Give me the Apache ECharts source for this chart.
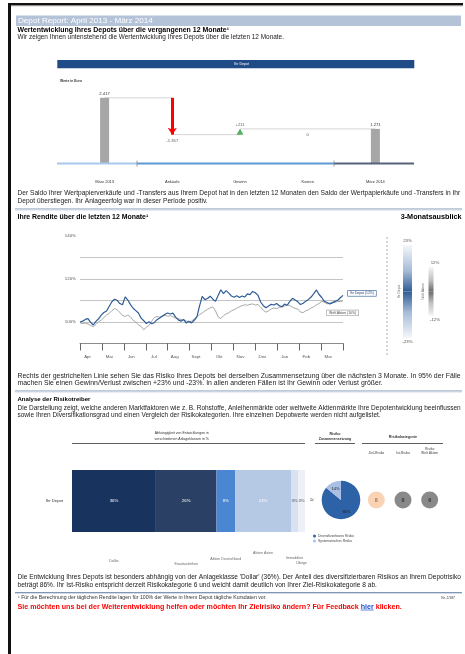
<!DOCTYPE html>
<html><head><meta charset="utf-8">
<script src="https://cdn.jsdelivr.net/npm/echarts@6/dist/echarts.min.js"></script>
<style>html,body{margin:0;padding:0;background:#fff}#c{width:465px;height:654px}</style>
</head><body><div id="c"></div>
<script>
// ---------------- DATA ----------------
const wfCategories = ['März 2013', 'Ankäufe', 'Gewinn', 'Kosten', 'März 2014'];
const wfStartValue = 2417;
const wfChanges = [-1357, 211, 0];
const wfEndValue = 1271;

const monthLabels = ['Apr', 'Mai', 'Jun', 'Jul', 'Aug', 'Sept', 'Okt', 'Nov', 'Dez', 'Jan', 'Feb', 'Mar'];
const returnAxisLabels = [100, 120, 140];
const depotReturn = [100.0,100.4,101.2,101.6,99.8,98.6,100.3,101.5,103.2,104.4,105.1,107.3,109.4,110.6,110.1,108.6,108.0,111.7,110.2,108.1,
  106.4,105.3,104.2,101.8,100.6,99.3,100.1,99.2,99.8,101.1,101.9,102.7,103.6,104.2,103.7,104.1,102.3,101.0,100.4,101.2,
  99.5,100.3,99.6,100.8,102.4,107.5,111.9,110.4,110.9,112.0,110.6,109.6,112.3,115.0,113.2,114.6,113.4,112.1,111.5,112.2,
  111.4,112.1,111.6,113.1,112.7,114.2,113.6,112.4,109.3,107.6,106.6,107.4,108.2,107.9,108.6,107.6,107.1,108.3,107.8,109.6,
  111.0,110.2,109.4,108.1,108.7,109.7,110.5,111.6,113.2,114.9,112.8,111.4,109.6,109.1,108.4,108.9,109.6,110.1,111.3,112.4];
const indexReturn = [99.6,99.3,99.5,99.1,98.4,97.8,98.9,100.2,100.9,102.1,103.2,104.0,105.3,106.3,105.6,104.5,103.0,102.6,103.2,102.4,
  100.8,99.9,98.7,97.9,96.4,97.6,98.5,100.4,102.1,102.5,102.3,102.8,103.1,102.7,102.9,102.4,101.8,101.6,101.2,100.9,
  100.5,100.1,100.4,101.5,102.6,103.4,104.2,105.1,105.9,106.6,107.0,105.2,102.4,101.6,102.9,103.8,104.3,105.2,105.7,106.4,
  107.1,107.6,108.0,107.8,108.2,108.4,107.9,108.1,106.9,105.4,104.6,105.2,106.1,106.5,106.2,106.8,107.0,107.4,107.9,107.6,
  106.9,106.3,106.0,104.6,104.4,105.2,105.7,106.5,107.1,108.0,108.6,109.7,109.2,108.4,108.9,109.3,109.1,109.6,109.5,109.8];
const depotEndLabel = 'Ihr Depot (12%)';
const indexEndLabel = 'Welt Aktien (10%)';

const outlookNames = ['Ihr Depot', 'Welt Aktien'];
const outlookRange = [23, 12];

const factorNames = ['Dollar', 'Staatsanleihen', 'Aktien Deutschland', 'Aktien Asien', 'Immobilien', 'Übrige'];
const factorShares = [36, 26, 8, 24, 3, 3];
const compositionNames = ['Diversifizierbares Risiko', 'Systematisches Risiko'];
const compositionShares = [86, 14];
const categoryNames = ['Ziel-Risiko', 'Ist-Risiko', 'Risiko\nWelt Aktien'];
const categoryValues = [8, 6, 6];

// ---------------- STYLE / HELPERS ----------------
const FF = 'Liberation Sans';
const factorColors = ['#18335d', '#2a4165', '#4a86d2', '#b5c9e4', '#d8e2f0', '#edf1f7'];
const factorNameOffsets = [60, 63, 58, 52, 57, 62];
const categoryColors = ['#f8c8a0', '#6b6b6b', '#6b6b6b'];
const categoryTextColors = ['#8a6446', '#222', '#222'];

const mctx = document.createElement('canvas').getContext('2d');
function tw(text, size, weight) { mctx.font = (weight || 'normal') + ' ' + size + 'px ' + FF; return mctx.measureText(text).width; }
function fit(text, width, weight) { return 100 * width / tw(text, 100, weight); }
function txt(text, x, y, o) {
  o = o || {};
  const size = o.size || fit(text, o.width, o.weight);
  return { type: 'text', x: x, y: y, silent: true, z: 100, rotation: o.rotation || 0,
    style: { text: text, fontFamily: FF, fontSize: size, fontWeight: o.weight || 'normal', fill: o.color || '#1a1a1a',
      align: o.align || 'left', verticalAlign: 'middle', textAlign: o.align || 'left', textVerticalAlign: 'middle' } };
}
function para(l1, l2, y1, y2) {
  const s = fit(l1, 444);
  return [txt(l1, 17.5, y1, { size: s }), txt(l2, 17.5, y2, { size: s })];
}
function rect(x, y, w, h, fill) { return { type: 'rect', silent: true, shape: { x: x, y: y, width: w, height: h }, style: { fill: fill } }; }
function ln(x1, y1, x2, y2, color, width, dash) {
  return { type: 'line', silent: true, z: 90, shape: { x1: x1, y1: y1, x2: x2, y2: y2 }, style: { stroke: color, lineWidth: width || 1, lineDash: dash || null } };
}
function sep(y) { return [ln(15, y, 462, y, '#8196b4', 1), ln(15, y + 1, 462, y + 1, '#d3dce8', 1)]; }
const fmt = v => (v < 0 ? '-' : '') + String(Math.abs(v)).replace(/\B(?=(\d{3})+(?!\d))/g, '.');

// ---------------- DERIVED ----------------
const levels = [wfStartValue];
wfChanges.forEach(c => levels.push(levels[levels.length - 1] + c));
const connectorData = levels.concat([wfEndValue]);
const wfBarData = wfCategories.map((c, i) => i === 0 ? wfStartValue : (i === wfCategories.length - 1 ? wfEndValue : '-'));
const changeMarkers = wfChanges.map((c, i) => {
  const cat = wfCategories[i + 1], prev = levels[i], next = levels[i + 1];
  const lab = (c > 0 ? '+' : '') + fmt(c);
  if (c < 0) return { value: [cat, next], symbolSize: 0, label: { show: true, position: 'bottom', distance: 4, formatter: lab } };
  if (c > 0) return { value: [cat, prev + c / 2], symbol: 'triangle', symbolSize: [7, 6], itemStyle: { color: '#2aa33d' }, label: { show: true, position: 'top', distance: 2, formatter: lab } };
  return { value: [cat, next], symbolSize: 0, label: { show: true, position: 'bottom', distance: 4, formatter: lab } };
});
const arrowLines = wfChanges.map((c, i) => c < 0 ? [{ coord: [wfCategories[i + 1], levels[i]] }, { coord: [wfCategories[i + 1], levels[i + 1]] }] : null).filter(Boolean);
const pointIdx = depotReturn.map((v, i) => i);
let cum = 0;
const factorMids = factorShares.map(s => { const m = cum + s / 2; cum += s; return m; });

// ---------------- TEXT / DECORATION ----------------
const G = [];
G.push(rect(8, 3, 3, 651, '#111'), rect(8, 3, 455, 2.4, '#111'), rect(11, 5.4, 452, 0.8, '#9a9a9a'));
G.push(rect(16, 15.5, 445, 10.5, '#b4c3d8'));
G.push(txt('Depot Report: April 2013 - März 2014', 18, 21, { width: 135, color: '#ffffff' }));
G.push(txt('Wertentwicklung Ihres Depots über die vergangenen 12 Monate¹', 17.5, 30.5, { width: 212, weight: 'bold', color: '#000' }));
G.push(txt('Wir zeigen Ihnen untenstehend die Wertentwicklung Ihres Depots über die letzten 12 Monate.', 17.5, 37.5, { width: 267 }));
G.push(rect(57.3, 60, 357, 8.3, '#1f4b86'));
G.push(txt('Ihr Depot', 241.7, 64.3, { size: 3.6, color: '#fff', align: 'center' }));
G.push(txt('Werte in Euro', 60, 80.7, { size: 3.4, color: '#333', weight: 'bold' }));
G.push(ln(57, 163.5, 137, 163.5, '#a9c9ec', 2), ln(137, 163.5, 334, 163.5, '#5f9ad6', 2), ln(334, 163.5, 414, 163.5, '#56627a', 2));
G.push(ln(137, 160.5, 137, 166.5, '#888', 0.8), ln(334, 160.5, 334, 166.5, '#888', 0.8));

G.push(...para('Der Saldo Ihrer Wertpapierverkäufe und -Transfers aus Ihrem Depot hat in den letzten 12 Monaten den Saldo der Wertpapierkäufe und -Transfers in Ihr',
  'Depot überstiegen. Ihr Anlageerfolg war in dieser Periode positiv.', 193.5, 201));
G.push(...sep(209));
G.push(txt('Ihre Rendite über die letzten 12 Monate¹', 17.5, 217.5, { width: 131, weight: 'bold', color: '#000' }));
G.push(txt('3-Monatsausblick', 461.5, 217.5, { width: 61, weight: 'bold', color: '#000', align: 'right' }));
G.push(ln(387, 237, 387, 357, '#9a9a9a', 0.8, [2, 2]));

G.push(...para('Rechts der gestrichelten Linie sehen Sie das Risiko Ihres Depots bei derselben Zusammensetzung über die nächsten 3 Monate. In 95% der Fälle',
  'machen Sie einen Gewinn/Verlust zwischen +23% und -23%. In allen anderen Fällen ist Ihr Gewinn oder Verlust größer.', 376, 383.5));
G.push(...sep(391));
G.push(txt('Analyse der Risikotreiber', 17.5, 399, { width: 73, weight: 'bold', color: '#000' }));
G.push(...para('Die Darstellung zeigt, welche anderen Marktfaktoren wie z. B. Rohstoffe, Anleihenmärkte oder weltweite Aktienmärkte Ihre Depotentwicklung beeinflussen',
  'sowie Ihren Diversifikationsgrad und einen Vergleich der Risikokategorien. Ihre einzelnen Depotwerte werden nicht aufgelistet.', 408, 415.5));

G.push(txt('Abhängigkeit von Entwicklungen in', 181.7, 433.3, { size: 3.5, color: '#333', align: 'center' }));
G.push(txt('verschiedenen Anlageklassen in %', 181.7, 439, { size: 3.5, color: '#333', align: 'center' }));
G.push(ln(72, 443.5, 305, 443.5, '#333', 0.8));
G.push(txt('Risiko', 335, 434, { size: 3.6, color: '#333', align: 'center', weight: 'bold' }));
G.push(txt('Zusammensetzung', 335, 439.3, { size: 3.6, color: '#333', align: 'center', weight: 'bold' }));
G.push(ln(315, 443.5, 355, 443.5, '#333', 0.8));
G.push(txt('Risikokategorie', 403, 437, { size: 3.8, color: '#333', align: 'center', weight: 'bold' }));
G.push(ln(362, 443.5, 443, 443.5, '#333', 0.8));
G.push(txt('≈', 312, 500.5, { size: 7, color: '#333', align: 'center' }));

G.push(...para('Die Entwicklung Ihres Depots ist besonders abhängig von der Anlageklasse \'Dollar\' (36%). Der Anteil des diversifizierbaren Risikos an Ihrem Depotrisiko',
  'beträgt 86%. Ihr Ist-Risiko entspricht derzeit Risikokategorie 6 und weicht damit deutlich von Ihrer Ziel-Risikokategorie 8 ab.', 577.5, 585.5));
G.push(...sep(592.5));
G.push(txt('¹ Für die Berechnung der täglichen Rendite lagen für 100% der Werte in Ihrem Depot tägliche Kursdaten vor.', 18, 597.7, { width: 249, color: '#333' }));
G.push(txt('Nr. 2/187', 455, 597.7, { size: 3.4, color: '#333', align: 'right' }));
const r1 = 'Sie möchten uns bei der Weiterentwicklung helfen oder möchten Ihr Zielrisiko ändern? Für Feedback ';
const r2 = 'hier';
const r3 = ' klicken.';
const rs = fit(r1 + r2 + r3, 385, 'bold');
const w1 = tw(r1, rs, 'bold'), w2 = tw(r2, rs, 'bold');
G.push(txt(r1, 17.5, 606.7, { size: rs, weight: 'bold', color: '#ff0000' }));
G.push(txt(r2, 17.5 + w1, 606.7, { size: rs, weight: 'bold', color: '#1f4fd0' }));
G.push(ln(17.5 + w1, 610, 17.5 + w1 + w2, 610, '#1f4fd0', 0.7));
G.push(txt(r3, 17.5 + w1 + w2, 606.7, { size: rs, weight: 'bold', color: '#ff0000' }));

// ---------------- CHART ----------------
function vgrad(stops) { return new echarts.graphic.LinearGradient(0, 0, 0, 1, stops); }
const outlookTone = [['#f4f7fb', '#a7bcd8', '#2f5d95'], ['#f4f4f4', '#bdbdbd', '#6a6a6a']];
const hidden = { show: false };
const series = [];

series.push({ type: 'bar', xAxisIndex: 0, yAxisIndex: 0, data: wfBarData, barWidth: 9, itemStyle: { color: '#a6a6a6' },
  label: { show: true, position: 'top', distance: 2, fontSize: 4.2, color: '#333', formatter: p => fmt(p.value) } });
series.push({ type: 'line', xAxisIndex: 0, yAxisIndex: 0, data: connectorData, step: 'end', symbol: 'none', z: 1,
  lineStyle: { color: '#c9c9c9', width: 0.8 },
  markLine: { silent: true, symbol: ['none', 'arrow'], symbolSize: 7, label: { show: false },
    lineStyle: { color: '#ff0000', width: 3, type: 'solid' }, data: arrowLines } });
series.push({ type: 'scatter', xAxisIndex: 0, yAxisIndex: 0, data: changeMarkers, z: 5,
  label: { fontSize: 4.2, color: '#333' } });

series.push({ type: 'line', name: 'Index', xAxisIndex: 1, yAxisIndex: 1, data: indexReturn, symbol: 'none', z: 2,
  lineStyle: { color: '#a8a8a8', width: 1 },
  endLabel: { show: true, formatter: indexEndLabel, fontSize: 3.4, color: '#444', backgroundColor: '#fff', borderColor: '#999', borderWidth: 0.6, padding: [1, 2], offset: [-24, 12] } });
series.push({ type: 'line', name: 'Depot', xAxisIndex: 1, yAxisIndex: 1, data: depotReturn, symbol: 'none', z: 3,
  lineStyle: { color: '#2e5c96', width: 1.2 },
  endLabel: { show: true, formatter: depotEndLabel, fontSize: 3.4, color: '#1f3f6e', backgroundColor: '#fff', borderColor: '#2e5c96', borderWidth: 0.6, padding: [1, 2], offset: [-3, -2] } });

outlookNames.forEach((n, k) => {
  const t = outlookTone[k];
  series.push({ type: 'bar', xAxisIndex: 4 + k, yAxisIndex: 4 + k, stack: 'o' + k, barWidth: '100%',
    data: [{ value: outlookRange[k], itemStyle: { color: vgrad([{ offset: 0, color: t[0] }, { offset: 0.55, color: t[1] }, { offset: 1, color: t[2] }]) } }],
    label: { show: true, position: 'top', distance: 2, offset: k ? [4, 0] : [0, 0], formatter: outlookRange[k] + '%', fontSize: 4.3, color: '#555' } });
  series.push({ type: 'bar', xAxisIndex: 4 + k, yAxisIndex: 4 + k, stack: 'o' + k, barWidth: '100%',
    data: [{ value: -outlookRange[k], itemStyle: { color: vgrad([{ offset: 0, color: t[2] }, { offset: 0.45, color: t[1] }, { offset: 1, color: t[0] }]) } }],
    label: { show: true, position: 'bottom', distance: 2, offset: k ? [4, 0] : [0, 0], formatter: '-' + outlookRange[k] + '%', fontSize: 4.3, color: '#555' } });
});

factorNames.forEach((n, i) => {
  series.push({ type: 'bar', name: n, stack: 'risk', xAxisIndex: 6, yAxisIndex: 6, barWidth: 62, data: [factorShares[i]],
    itemStyle: { color: factorColors[i] },
    label: { show: true, position: 'inside', formatter: '{c}%', fontSize: 4.3, color: i < 4 ? '#ffffff' : '#555' } });
});
series.push({ type: 'scatter', xAxisIndex: 6, yAxisIndex: 6, symbolSize: 0, silent: true,
  data: factorNames.map((n, i) => ({ value: [factorMids[i], 'Ihr Depot'], label: { offset: [0, factorNameOffsets[i]], formatter: n } })),
  label: { show: true, position: 'inside', fontSize: 3.6, color: '#444' } });

series.push({ type: 'pie', center: [341, 500], radius: 19.3, startAngle: 90,
  data: compositionNames.map((n, i) => ({ name: n, value: compositionShares[i], itemStyle: { color: i ? '#a9bfe3' : '#2e62a6' } })),
  label: { show: true, position: 'inside', formatter: '{c}%', fontSize: 4, color: '#222' }, labelLine: { show: false } });

series.push({ type: 'scatter', xAxisIndex: 7, yAxisIndex: 7, symbolSize: 17,
  data: categoryNames.map((n, i) => ({ value: [n, 0], itemStyle: { color: categoryColors[i] },
    label: { show: true, position: 'inside', formatter: String(categoryValues[i]), fontSize: 5.5, fontWeight: 'bold', color: categoryTextColors[i] } })) });

const monthAxisBase = { type: 'category', data: monthLabels, boundaryGap: true };
const option = {
  animation: false,
  backgroundColor: '#ffffff',
  textStyle: { fontFamily: FF },
  graphic: { elements: G },
  legend: { data: compositionNames, orient: 'vertical', left: 313, top: 534.5, itemWidth: 3, itemHeight: 3, itemGap: 2, icon: 'circle', padding: 0,
    textStyle: { fontSize: 3.4, color: '#444', padding: [0, 0, 0, -3] } },
  grid: [
    { left: 70.75, width: 338.5, top: 82, height: 81.4 },
    { left: 80, right: 122, top: 236, height: 107.5 },
    { left: 80, right: 122, top: 330, height: 13.5 },
    { left: 80, right: 122, top: 343.5, height: 5 },
    { left: 403, width: 9, top: 241, height: 101 },
    { left: 428.5, width: 5, top: 241, height: 101 },
    { left: 72, width: 233, top: 470, height: 62 },
    { left: 363, width: 80, top: 458, height: 84 }
  ],
  xAxis: [
    { gridIndex: 0, type: 'category', data: wfCategories, axisLine: hidden, axisTick: hidden,
      axisLabel: { fontSize: 4, color: '#333', margin: 16, interval: 0 } },
    { gridIndex: 1, type: 'category', data: pointIdx, boundaryGap: false, show: false },
    Object.assign({ gridIndex: 2, position: 'bottom', axisLine: { lineStyle: { color: '#8c8c8c', width: 1 } },
      axisTick: { show: true, length: 7, lineStyle: { color: '#666', width: 1 } },
      axisLabel: { fontSize: 4.4, color: '#555', margin: 11, align: 'right', interval: 0 } }, monthAxisBase),
    Object.assign({ gridIndex: 3, position: 'top', axisLine: hidden, axisLabel: hidden,
      axisTick: { show: true, length: 5, lineStyle: { color: '#666', width: 1 } } }, monthAxisBase),
    { gridIndex: 4, type: 'category', data: [outlookNames[0]], show: false },
    { gridIndex: 5, type: 'category', data: [outlookNames[1]], show: false },
    { gridIndex: 6, type: 'value', min: 0, max: 100, show: false },
    { gridIndex: 7, type: 'category', data: categoryNames, position: 'top', axisLine: hidden, axisTick: hidden,
      axisLabel: { fontSize: 3.4, lineHeight: 4, color: '#444', margin: 3, interval: 0 } }
  ],
  yAxis: [
    { gridIndex: 0, type: 'value', min: 0, max: 3000, show: false },
    { gridIndex: 1, type: 'value', min: 90, max: 140, interval: 10, axisLine: hidden, axisTick: hidden,
      axisLabel: { fontSize: 4.4, color: '#555', margin: 4, formatter: v => returnAxisLabels.includes(v) ? v + '%' : '' },
      splitLine: { show: true, lineStyle: { color: ['rgba(0,0,0,0)', '#c4c4c4', '#c4c4c4', '#c4c4c4', '#c4c4c4', 'rgba(0,0,0,0)'], width: 1 } } },
    { gridIndex: 2, type: 'value', show: false },
    { gridIndex: 3, type: 'value', show: false },
    { gridIndex: 4, type: 'value', min: -25, max: 25, axisLine: hidden, axisTick: hidden, axisLabel: hidden, splitLine: hidden,
      name: outlookNames[0], nameLocation: 'middle', nameRotate: 90, nameGap: 2.5, nameTextStyle: { fontSize: 3.3, color: '#666' } },
    { gridIndex: 5, type: 'value', min: -25, max: 25, axisLine: hidden, axisTick: hidden, axisLabel: hidden, splitLine: hidden,
      name: outlookNames[1], nameLocation: 'middle', nameRotate: 90, nameGap: 4, nameTextStyle: { fontSize: 3.3, color: '#666' } },
    { gridIndex: 6, type: 'category', data: ['Ihr Depot'], axisLine: hidden, axisTick: hidden,
      axisLabel: { fontSize: 4.2, color: '#333', margin: 9 } },
    { gridIndex: 7, type: 'value', min: -1, max: 1, show: false }
  ],
  series: series
};
const chart = echarts.init(document.getElementById('c'), null, { renderer: 'canvas' });
chart.setOption(option);
</script>
</body></html>
